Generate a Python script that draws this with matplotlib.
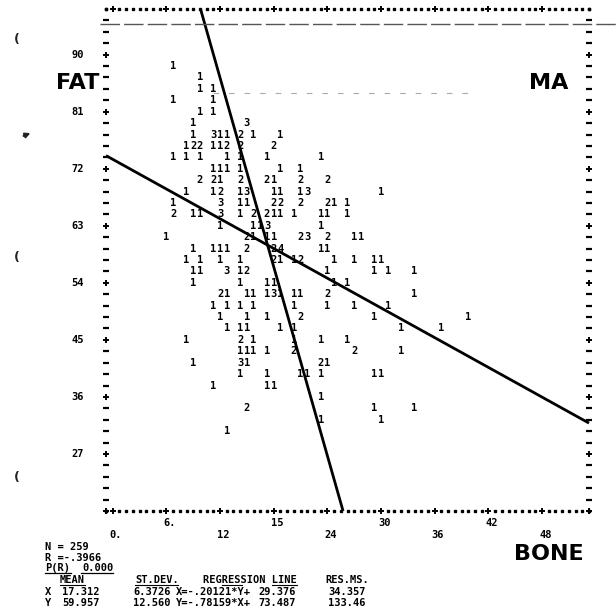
import matplotlib
matplotlib.use("Agg")
import matplotlib.pyplot as plt
from matplotlib.lines import Line2D

# ---------------- data ----------------
# scatter cells: BONE (x), FAT (y), printed count
bone = [6.75,
        9.75,
        9.75, 11.25,
        6.75, 11.25,
        9.75, 11.25,
        9.0, 15.0,
        9.0, 11.25, 12.0, 12.75, 14.25, 15.75, 18.75,
        8.25, 9.0, 9.75, 11.25, 12.0, 12.75, 14.25, 18.0,
        6.75, 8.25, 9.75, 12.75, 14.25, 17.25, 23.25,
        11.25, 12.0, 12.75, 14.25, 18.75, 21.0,
        9.75, 11.25, 12.0, 14.25, 17.25, 18.0, 21.0, 24.0,
        8.25, 11.25, 12.0, 14.25, 15.0, 18.0, 18.75, 21.0, 21.75, 30.0,
        6.75, 12.0, 14.25, 15.0, 18.0, 18.75, 21.0, 24.0, 24.75, 26.25,
        6.75, 9.0, 9.75, 12.0, 14.25, 15.75, 17.25, 18.0, 18.75, 20.25, 23.25, 24.0, 26.25,
        12.0, 15.75, 16.5, 17.25, 23.25,
        6.0, 15.0, 15.75, 17.25, 18.0, 21.0, 21.75, 24.0, 27.0, 27.75,
        9.0, 11.25, 12.0, 12.75, 15.0, 18.0, 18.75, 23.25, 24.0,
        8.25, 9.75, 12.0, 14.25, 18.0, 18.75, 20.25, 21.0, 24.75, 27.0, 29.25, 30.0,
        9.0, 9.75, 12.75, 14.25, 15.0, 24.0, 29.25, 30.75, 33.75,
        9.0, 14.25, 17.25, 18.0, 24.75, 26.25,
        12.0, 12.75, 15.0, 15.75, 17.25, 18.0, 18.75, 20.25, 21.0, 24.0, 33.75,
        11.25, 12.75, 14.25, 15.75, 20.25, 24.0, 27.0, 30.75,
        12.0, 15.0, 17.25, 21.0, 29.25, 39.75,
        12.75, 14.25, 15.0, 18.75, 20.25, 32.25, 36.75,
        8.25, 14.25, 15.75, 20.25, 23.25, 26.25,
        14.25, 15.0, 15.75, 17.25, 20.25, 27.0, 32.25,
        9.0, 14.25, 15.0, 23.25, 24.0,
        14.25, 17.25, 21.0, 21.75, 23.25, 29.25, 30.0,
        11.25, 17.25, 18.0,
        23.25,
        15.0, 29.25, 33.75,
        23.25, 30.0,
        12.75]
fat = [88.2,
       86.4,
       84.6, 84.6,
       82.8, 82.8,
       81.0, 81.0,
       79.2, 79.2,
       77.4, 77.4, 77.4, 77.4, 77.4, 77.4, 77.4,
       75.6, 75.6, 75.6, 75.6, 75.6, 75.6, 75.6, 75.6,
       73.8, 73.8, 73.8, 73.8, 73.8, 73.8, 73.8,
       72.0, 72.0, 72.0, 72.0, 72.0, 72.0,
       70.2, 70.2, 70.2, 70.2, 70.2, 70.2, 70.2, 70.2,
       68.4, 68.4, 68.4, 68.4, 68.4, 68.4, 68.4, 68.4, 68.4, 68.4,
       66.6, 66.6, 66.6, 66.6, 66.6, 66.6, 66.6, 66.6, 66.6, 66.6,
       64.8, 64.8, 64.8, 64.8, 64.8, 64.8, 64.8, 64.8, 64.8, 64.8, 64.8, 64.8, 64.8,
       63.0, 63.0, 63.0, 63.0, 63.0,
       61.2, 61.2, 61.2, 61.2, 61.2, 61.2, 61.2, 61.2, 61.2, 61.2,
       59.4, 59.4, 59.4, 59.4, 59.4, 59.4, 59.4, 59.4, 59.4,
       57.6, 57.6, 57.6, 57.6, 57.6, 57.6, 57.6, 57.6, 57.6, 57.6, 57.6, 57.6,
       55.8, 55.8, 55.8, 55.8, 55.8, 55.8, 55.8, 55.8, 55.8,
       54.0, 54.0, 54.0, 54.0, 54.0, 54.0,
       52.2, 52.2, 52.2, 52.2, 52.2, 52.2, 52.2, 52.2, 52.2, 52.2, 52.2,
       50.4, 50.4, 50.4, 50.4, 50.4, 50.4, 50.4, 50.4,
       48.6, 48.6, 48.6, 48.6, 48.6, 48.6,
       46.8, 46.8, 46.8, 46.8, 46.8, 46.8, 46.8,
       45.0, 45.0, 45.0, 45.0, 45.0, 45.0,
       43.2, 43.2, 43.2, 43.2, 43.2, 43.2, 43.2,
       41.4, 41.4, 41.4, 41.4, 41.4,
       39.6, 39.6, 39.6, 39.6, 39.6, 39.6, 39.6,
       37.8, 37.8, 37.8,
       36.0,
       34.2, 34.2, 34.2,
       32.4, 32.4,
       30.6]
counts = [1,
          1,
          1, 1,
          1, 1,
          1, 1,
          1, 3,
          1, 3, 1, 1, 2, 1, 1,
          1, 2, 2, 1, 1, 2, 2, 2,
          1, 1, 1, 1, 1, 1, 1,
          1, 1, 1, 1, 1, 1,
          2, 2, 1, 2, 2, 1, 2, 2,
          1, 1, 2, 1, 3, 1, 1, 1, 3, 1,
          1, 3, 1, 1, 2, 2, 2, 2, 1, 1,
          2, 1, 1, 3, 1, 2, 2, 1, 1, 1, 1, 1, 1,
          1, 1, 1, 3, 1,
          1, 2, 1, 1, 1, 2, 3, 2, 1, 1,
          1, 1, 1, 1, 2, 2, 4, 1, 1,
          1, 1, 1, 1, 2, 1, 1, 2, 1, 1, 1, 1,
          1, 1, 3, 1, 2, 1, 1, 1, 1,
          1, 1, 1, 1, 1, 1,
          2, 1, 1, 1, 1, 3, 1, 1, 1, 2, 1,
          1, 1, 1, 1, 1, 1, 1, 1,
          1, 1, 1, 2, 1, 1,
          1, 1, 1, 1, 1, 1, 1,
          1, 2, 1, 1, 1, 1,
          1, 1, 1, 1, 2, 2, 1,
          1, 3, 1, 2, 1,
          1, 1, 1, 1, 1, 1, 1,
          1, 1, 1,
          1,
          2, 1, 1,
          1, 1,
          1]

x_ticks = [0, 6, 12, 18, 24, 30, 36, 42, 48]
x_tick_labels = ["0.", "6.", "12", "15", "24", "30", "36", "42", "48"]
y_ticks = [90, 81, 72, 63, 54, 45, 36, 27]
y_tick_labels = ["90", "81", "72", "63", "54", "45", "36", "27"]

# summary statistics printed below the plot
n_obs = "259"
r_text = "-.3966"
p_text = "0.000"
stat_vars = ["X", "Y"]
means = ["17.312", "59.957"]
st_devs = ["6.3726", "12.560"]
reg_slopes = [-0.20121, -0.78159]
reg_intercepts = [29.376, 73.487]
res_ms = ["34.357", "133.46"]

# ---------------- figure ----------------
W, H = 616, 613
fig = plt.figure(figsize=(W / 100, H / 100), dpi=100)
fig.patch.set_facecolor("white")

X0, X1 = -0.75, 53.25
Y0, Y1 = 18.0, 97.2
L, R, T, B = 106, 589, 9, 511
ax = fig.add_axes([L / W, 1 - B / H, (R - L) / W, (B - T) / H])
ax.set_xlim(X0, X1)
ax.set_ylim(Y0, Y1)
ax.axis("off")

MONO = "DejaVu Sans Mono"
SANS = "DejaVu Sans"


def px_to_dx(px):
    return X0 + (px - L) * (X1 - X0) / (R - L)


def ftext(xp, yp, s, **kw):
    kw.setdefault("ha", "left")
    kw.setdefault("va", "center")
    kw.setdefault("family", MONO)
    kw.setdefault("weight", "bold")
    kw.setdefault("fontsize", 7.5)
    return fig.text(xp / W, 1 - yp / H, s, **kw)


def fline(x0, x1, y, **kw):
    fig.add_artist(Line2D([x0 / W, x1 / W], [1 - y / H, 1 - y / H], **kw))


# printer frame: dots along top/bottom, +/- along sides
cols = [X0 + 0.75 * j for j in range(73)]
rows = [Y1 - 1.8 * i for i in range(45)]
dot_x = [c for j, c in enumerate(cols) if j % 8 != 1]
plus_x = [c for j, c in enumerate(cols) if j % 8 == 1]
for yy in (Y0, Y1):
    ax.plot(dot_x, [yy] * len(dot_x), ls="none", marker="s", ms=1.9,
            color="black", clip_on=False)
    ax.plot(plus_x, [yy] * len(plus_x), ls="none", marker="+", ms=5,
            mew=1.4, color="black", clip_on=False)
side_plus = [r for i, r in enumerate(rows) if i % 5 == 4]
side_dash = [r for i, r in enumerate(rows) if i % 5 != 4 and 0 < i < 44]
for xx in (X0, X1):
    ax.plot([xx] * len(side_plus), side_plus, ls="none", marker="+", ms=5,
            mew=1.4, color="black", clip_on=False)
    ax.plot([xx] * len(side_dash), side_dash, ls="none", marker="_", ms=4,
            mew=1.6, color="black", clip_on=False)
    ax.plot([xx, xx], [Y0, Y1], ls="none", marker="s", ms=1.9,
            color="black", clip_on=False)

# scatter counts as printed digits
for bx, fy, c in zip(bone, fat, counts):
    ax.text(bx, fy, str(c), ha="center", va="center", family=MONO,
            weight="bold", fontsize=7.5, color="black", clip_on=False)

# regression lines
# X on Y: BONE = slope*FAT + intercept ; Y on X: FAT = slope*BONE + intercept
ax.plot([reg_slopes[0] * Y1 + reg_intercepts[0], reg_slopes[0] * Y0 + reg_intercepts[0]],
        [Y1, Y0], color="black", lw=2.0, clip_on=False, solid_capstyle="butt")
ax.plot([X0, X1], [reg_slopes[1] * X0 + reg_intercepts[1], reg_slopes[1] * X1 + reg_intercepts[1]],
        color="black", lw=2.0, clip_on=False, solid_capstyle="butt")

# y tick labels
for yv, lab in zip(y_ticks, y_tick_labels):
    ax.text(px_to_dx(84), yv, lab, ha="right", va="center", family=MONO,
            weight="bold", fontsize=7.5, clip_on=False)

# x tick labels in two staggered rows
for k, (xv, lab) in enumerate(zip(x_ticks, x_tick_labels)):
    xp = L + (xv - X0) * (R - L) / (X1 - X0) - 3
    ftext(xp, 523 if k % 2 else 535, lab)

# axis names
ftext(78, 83, "FAT", ha="center", family=SANS, fontsize=16)
ftext(549, 83, "MA", ha="center", family=SANS, fontsize=16)
ftext(549, 554, "BONE", ha="center", family=SANS, fontsize=16)

# summary block
ftext(45, 547, "N = " + n_obs)
ftext(45, 558, "R =" + r_text)
ftext(45, 568, "P(R)")
ftext(82, 568, p_text)
fline(45, 71, 573, color="black", lw=0.9)
fline(81, 113, 573, color="black", lw=0.9)
ftext(60, 580, "MEAN")
ftext(135, 580, "ST.DEV.")
ftext(203, 580, "REGRESSION LINE")
ftext(325, 580, "RES.MS.")
fline(60, 85, 585, color="black", lw=0.8)
fline(135, 178, 585, color="black", lw=0.8)
fline(222, 242, 585, color="black", lw=0.8)
fline(272, 297, 585, color="black", lw=0.8)
other = {"X": "Y", "Y": "X"}
for k, v in enumerate(stat_vars):
    yp = 592 + 11 * k
    ftext(45, yp, v)
    ftext(62, yp, means[k])
    ftext(133, yp, st_devs[k])
    slope_txt = f"{reg_slopes[k]:.5f}".replace("0.", ".")
    ftext(176, yp, f"{v}={slope_txt}*{other[v]}+")
    ftext(258, yp, f"{reg_intercepts[k]:.3f}")
    ftext(328, yp, res_ms[k])

# scan artefacts: faint guide lines and margin specks
fline(100, 616, 24, color="#555555", lw=1.0, dashes=(14, 3))
fline(213, 470, 93, color="#aaaaaa", lw=0.8, dashes=(5, 9))
for yp in (40, 257, 478):
    ftext(17, yp, "(", ha="center", family=SANS, fontsize=9, color="#222222")
ax.annotate("", xy=(33 / W, 1 - 132 / H), xytext=(21 / W, 1 - 137 / H),
            xycoords="figure fraction", textcoords="figure fraction",
            arrowprops=dict(arrowstyle="-|>", color="#222222", lw=1.5,
                            mutation_scale=7))

fig.savefig("out.png", dpi=100, facecolor="white")
